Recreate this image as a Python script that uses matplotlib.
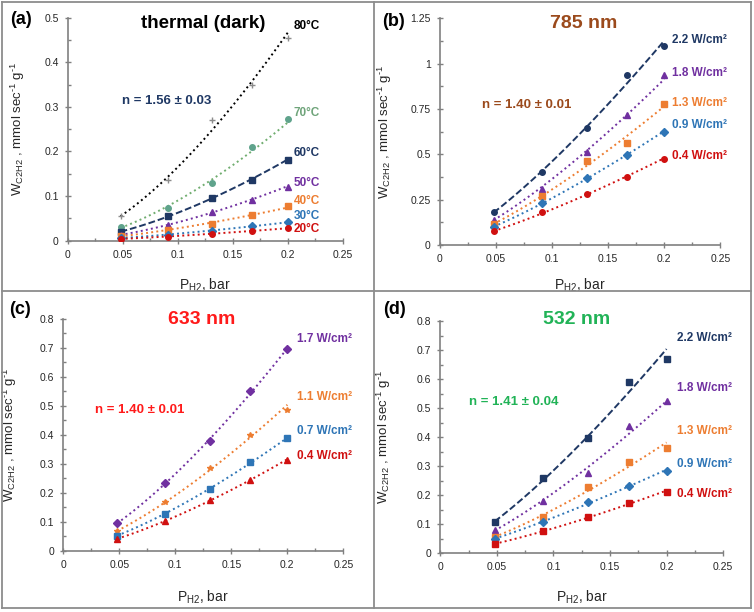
import numpy as np
import matplotlib
matplotlib.use('Agg')
import matplotlib.pyplot as plt
from matplotlib.lines import Line2D
from matplotlib.ticker import FixedLocator, MultipleLocator

plt.rcParams['font.family'] = ['Liberation Sans', 'DejaVu Sans']
plt.rcParams['mathtext.default'] = 'regular'

# hydrogen partial pressure, bar (same for every panel)
p_h2 = [0.048, 0.091, 0.131, 0.167, 0.200]

# (a) thermal (dark), rate vs temperature
a_labels = ['80°C', '70°C', '60°C', '50°C', '40°C', '30°C', '20°C']
a_values = [
    [0.055, 0.137, 0.270, 0.350, 0.455],
    [0.030, 0.073, 0.130, 0.210, 0.272],
    [0.020, 0.055, 0.096, 0.137, 0.181],
    [0.013, 0.035, 0.065, 0.092, 0.121],
    [0.010, 0.024, 0.038, 0.058, 0.078],
    [0.006, 0.013, 0.022, 0.033, 0.043],
    [0.004, 0.009, 0.016, 0.022, 0.028],
]
# (b) 785 nm
b_labels = ['2.2 W/cm²', '1.8 W/cm²', '1.3 W/cm²', '0.9 W/cm²', '0.4 W/cm²']
b_values = [
    [0.180, 0.400, 0.645, 0.935, 1.100],
    [0.140, 0.310, 0.515, 0.715, 0.940],
    [0.115, 0.270, 0.465, 0.565, 0.775],
    [0.100, 0.230, 0.370, 0.495, 0.625],
    [0.075, 0.180, 0.280, 0.375, 0.475],
]
# (c) 633 nm
c_labels = ['1.7 W/cm²', '1.1 W/cm²', '0.7 W/cm²', '0.4 W/cm²']
c_values = [
    [0.095, 0.235, 0.380, 0.550, 0.695],
    [0.068, 0.170, 0.285, 0.400, 0.485],
    [0.053, 0.128, 0.215, 0.305, 0.390],
    [0.042, 0.103, 0.175, 0.245, 0.315],
]
# (d) 532 nm
d_labels = ['2.2 W/cm²', '1.8 W/cm²', '1.3 W/cm²', '0.9 W/cm²', '0.4 W/cm²']
d_values = [
    [0.108, 0.258, 0.398, 0.590, 0.670],
    [0.080, 0.180, 0.278, 0.440, 0.525],
    [0.057, 0.125, 0.228, 0.315, 0.362],
    [0.050, 0.108, 0.178, 0.232, 0.282],
    [0.032, 0.078, 0.125, 0.172, 0.210],
]

x_ticks = [0, 0.05, 0.1, 0.15, 0.2, 0.25]
x_ticklabels = ['0', '0.05', '0.1', '0.15', '0.2', '0.25']
a_yticks = [0, 0.1, 0.2, 0.3, 0.4, 0.5]
b_yticks = [0, 0.25, 0.5, 0.75, 1, 1.25]
cd_yticks = [0, 0.1, 0.2, 0.3, 0.4, 0.5, 0.6, 0.7, 0.8]

NAVY = '#1f3864'
PURPLE = '#7030a0'
ORANGE = '#ed7d31'
BLUE = '#2e75b6'
RED = '#d01010'
TEAL = '#5fa38c'

fig = plt.figure(figsize=(7.54, 6.12), dpi=100)


def fmt(v):
    return '%g' % v


def setup_axes(rect, yticks, xlab_y, ylab_x):
    ax = fig.add_axes(rect)
    ax.set_xlim(0, 0.25)
    ax.set_ylim(yticks[0], yticks[-1])
    ax.xaxis.set_major_locator(FixedLocator(x_ticks))
    ax.set_xticklabels(x_ticklabels)
    ax.yaxis.set_major_locator(FixedLocator(yticks))
    ax.set_yticklabels([fmt(v) for v in yticks])
    ax.xaxis.set_minor_locator(MultipleLocator(0.025))
    ax.yaxis.set_minor_locator(MultipleLocator((yticks[1] - yticks[0]) / 2))
    for s in ['top', 'right']:
        ax.spines[s].set_visible(False)
    for s in ['left', 'bottom']:
        ax.spines[s].set_color('#808080')
        ax.spines[s].set_linewidth(1.2)
    ax.tick_params(which='major', direction='inout', length=5, width=1,
                   color='#808080', labelsize=7.5, labelcolor='#262626', pad=4)
    ax.tick_params(which='minor', direction='in', length=2.5, width=1,
                   color='#808080')
    ax.set_xlabel('P$_{H2}$, bar', fontsize=10, color='#262626')
    ax.set_ylabel('W$_{C2H2}$ , mmol sec$^{\u20101}$ g$^{\u20101}$',
                  fontsize=9.5, color='#262626')
    ax.xaxis.set_label_coords(0.5, xlab_y)
    ax.yaxis.set_label_coords(ylab_x, 0.5)
    ax.patch.set_alpha(0)
    return ax


def power_fit(ax, y, color, ls, lw=1.4):
    # power-law trend line like the original spreadsheet fit
    k = np.polyfit(np.log(p_h2), np.log(y), 1)
    xs = np.linspace(p_h2[0], p_h2[-1], 60)
    ax.plot(xs, np.exp(np.polyval(k, np.log(xs))), color=color,
            linestyle=ls, linewidth=lw, zorder=2)


def draw_series(ax, values, labels, styles, label_pos, label_x):
    for y, lab, st, ly in zip(values, labels, styles, label_pos):
        color, mk, mcol, ls, lcol = st
        power_fit(ax, y, color, ls)
        ax.plot(p_h2, y, linestyle='none', marker=mk, color=mcol,
                markersize=4 if mk != '+' else 5, zorder=3)
        ax.text(label_x, ly, lab, color=lcol, fontsize=8.5,
                fontweight='bold', ha='left', va='center')


DASH = (0, (3.5, 1.5))

# panel (a)
ax_a = setup_axes([0.0898, 0.6067, 0.365, 0.3644], a_yticks, -0.163, -0.148)
a_styles = [
    ('black', '+', '#8c8c8c', ':', 'black'),
    ('#70ad6f', 'o', TEAL, ':', '#6fa47a'),
    (NAVY, 's', NAVY, DASH, NAVY),
    (PURPLE, '^', PURPLE, ':', PURPLE),
    (ORANGE, 's', ORANGE, ':', ORANGE),
    (BLUE, 'D', BLUE, ':', BLUE),
    (RED, 'o', RED, ':', RED),
]
draw_series(ax_a, a_values, a_labels, a_styles,
            [0.481, 0.286, 0.196, 0.13, 0.089, 0.055, 0.026], 0.205)

# panel (b)
ax_b = setup_axes([0.5832, 0.5997, 0.3722, 0.3704], b_yticks, -0.141, -0.164)
b_styles = [
    (NAVY, 'o', NAVY, DASH, NAVY),
    (PURPLE, '^', PURPLE, ':', PURPLE),
    (ORANGE, 's', ORANGE, ':', ORANGE),
    (BLUE, 'D', BLUE, ':', BLUE),
    (RED, 'o', RED, ':', RED),
]
draw_series(ax_b, b_values, b_labels, b_styles,
            [1.13, 0.948, 0.783, 0.661, 0.49], 0.207)

# panel (c)
ax_c = setup_axes([0.0840, 0.0997, 0.3714, 0.3796], cd_yticks, -0.164, -0.16)
c_styles = [
    (PURPLE, 'D', PURPLE, ':', PURPLE),
    (ORANGE, '*', ORANGE, ':', ORANGE),
    (BLUE, 's', BLUE, ':', BLUE),
    (RED, '^', RED, ':', RED),
]
draw_series(ax_c, c_values, c_labels, c_styles,
            [0.729, 0.531, 0.413, 0.327], 0.209)

# panel (d)
ax_d = setup_axes([0.5840, 0.0959, 0.3750, 0.3796], cd_yticks, -0.154, -0.168)
d_styles = [
    (NAVY, 's', NAVY, DASH, NAVY),
    (PURPLE, '^', PURPLE, ':', PURPLE),
    (ORANGE, 's', ORANGE, ':', ORANGE),
    (BLUE, 'D', BLUE, ':', BLUE),
    (RED, 's', RED, ':', RED),
]
draw_series(ax_d, d_values, d_labels, d_styles,
            [0.742, 0.570, 0.421, 0.306, 0.203], 0.209)

W, H = 754.0, 612.0


def ftext(px, py, s, **kw):
    fig.text(px / W, 1 - py / H, s, ha='center', va='center',
             fontweight='bold', **kw)


# panel letters
for px, py, s in [(21, 20, '(a)'), (393, 21, '(b)'), (20, 309, '(c)'), (394, 310, '(d)')]:
    ftext(px, py, s, fontsize=13, color='black')

# panel titles
ftext(203, 24, 'thermal (dark)', fontsize=13.5, color='black')
ftext(584, 24, '785 nm', fontsize=14, color='#9b4a1c')
ftext(202, 320, '633 nm', fontsize=14, color='#ff1a1a')
ftext(577, 320, '532 nm', fontsize=14, color='#21b357')

# reaction orders
ftext(167, 101, 'n = 1.56 ± 0.03', fontsize=9.5, color=NAVY)
ftext(527, 105, 'n = 1.40 ± 0.01', fontsize=9.5, color='#9b4a1c')
ftext(140, 410, 'n = 1.40 ± 0.01', fontsize=9.5, color='#ff1a1a')
ftext(514, 402, 'n = 1.41 ± 0.04', fontsize=9.5, color='#21b357')

# panel frames
frame = '#8c8c8c'
for xs, ys in [((2, 751), (2, 2)), ((2, 751), (608, 608)), ((2, 2), (2, 608)),
               ((751, 751), (2, 608)), ((374, 374), (2, 608)), ((2, 751), (291, 291))]:
    fig.add_artist(Line2D([x / W for x in xs], [1 - y / H for y in ys],
                          color=frame, linewidth=1.3))

fig.savefig('out.png', dpi=100)
